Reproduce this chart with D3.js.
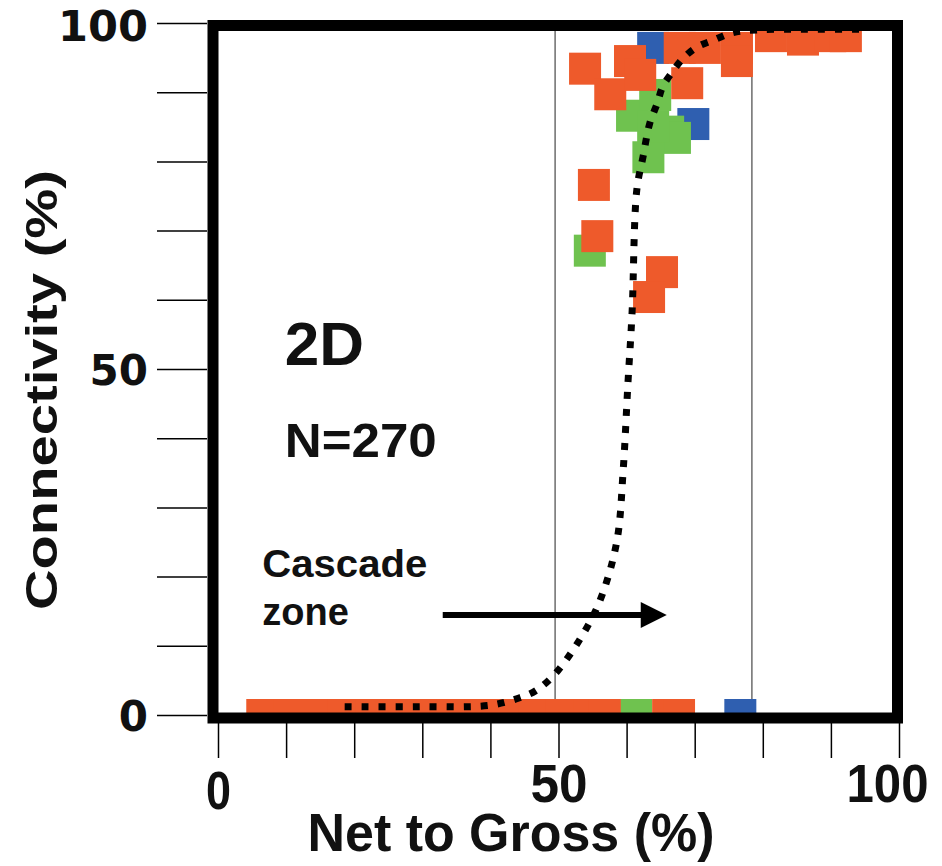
<!DOCTYPE html>
<html>
<head>
<meta charset="utf-8">
<script src="https://cdn.jsdelivr.net/npm/d3@7"></script>
<style>
  body { margin: 0; background: #fff; }
  text { font-family: "Liberation Sans", Arial, sans-serif; font-weight: bold; fill: #111; }
</style>
</head>
<body>
<div id="chart"></div>
<script>
const FRAME_WIDTH = 942;
const FRAME_HEIGHT = 866;

// data: [net to gross %, connectivity %]
const orange_pts = [
    [6.5, 0], [10.5, 0], [14.5, 0], [18.5, 0], [22.5, 0], [26.5, 0], [30.5, 0],
    [34.5, 0], [38.5, 0], [42.5, 0], [46.5, 0], [50.5, 0], [54.5, 0], [56.8, 0],
    [66.1, 0], [67.7, 0],
    [53.9, 93.4], [57.6, 89.7], [60.5, 94.5], [62.0, 92.5], [67.8, 96.4],
    [71.5, 96.4], [76.2, 96.4], [76.2, 94.5], [68.9, 91.3], [81.2, 98.1],
    [85.9, 97.6], [89.9, 98.1], [92.2, 98.1], [55.2, 76.6], [55.7, 69.2],
    [65.2, 64.0], [63.3, 60.4]
];
const green_pts = [
    [61.4, 0], [54.6, 67.1], [60.8, 86.6], [66.1, 84.3], [67.1, 83.4],
    [63.2, 80.6], [63.9, 85.0], [64.2, 89.6]
];
const blue_pts = [
    [76.7, 0], [63.9, 96.4], [69.8, 85.4]
];
// dotted trend curve
const curve_pts = [
    [18.6, 1.2], [29.7, 1.2], [39.9, 1.4], [44.3, 2.5], [46.8, 3.6], [49.9, 6.4],
    [54.2, 12.7], [56.5, 17.6], [58.6, 25.3], [59.5, 35.4], [60.2, 48.0],
    [60.8, 58.1], [61.5, 75.9], [62.4, 80.6], [63.4, 85.5], [64.5, 88.4],
    [65.3, 90.8], [66.7, 92.9], [68.3, 94.9], [70.3, 96.5], [72.7, 97.5],
    [75.6, 98.6], [79.1, 99.0], [84.0, 99.1], [88.8, 99.1], [94.3, 99.1]
];
const grid_x = [49.5, 78.4];
const x_ticks = [0, 10, 20, 30, 40, 50, 60, 70, 80, 90, 100];
const y_ticks = [0, 10, 20, 30, 40, 50, 60, 70, 80, 90, 100];
const labelled_ticks = [0, 50, 100];

const COLORS = {orange: "#ee5a2b", green: "#6fc24f", blue: "#2f5fb0"};
const SQ = 32;

const svg = d3.select("#chart")
    .append("svg")
    .attr("width", FRAME_WIDTH)
    .attr("height", FRAME_HEIGHT);

const x = d3.scaleLinear().domain([0, 100]).range([218, 899]);
const y = d3.scaleLinear().domain([0, 100]).range([715, 23]);

// clip so the squares stay inside the frame
svg.append("clipPath").attr("id", "plotclip")
  .append("rect")
    .attr("x", 219).attr("y", 31)
    .attr("width", 892 - 219).attr("height", 713 - 31);

const plot = svg.append("g").attr("clip-path", "url(#plotclip)");

// thin vertical guide lines
plot.selectAll(".grid")
    .data(grid_x)
    .enter()
    .append("line")
    .attr("x1", (d) => x(d)).attr("x2", (d) => x(d))
    .attr("y1", y(100)).attr("y2", y(0))
    .attr("stroke", "#555")
    .attr("stroke-width", 1.3);

function add_squares(pts, color) {
    plot.append("g")
        .selectAll("rect")
        .data(pts)
        .enter()
        .append("rect")
        .attr("x", (d) => x(d[0]) - SQ / 2)
        .attr("y", (d) => y(d[1]) - SQ / 2)
        .attr("width", SQ)
        .attr("height", SQ)
        .attr("fill", color);
}
add_squares(blue_pts, COLORS.blue);
add_squares(green_pts, COLORS.green);
add_squares(orange_pts, COLORS.orange);

// dotted curve
const line = d3.line()
    .x((d) => x(d[0]))
    .y((d) => y(d[1]))
    .curve(d3.curveCatmullRom);
plot.append("path")
    .datum(curve_pts)
    .attr("d", line)
    .attr("fill", "none")
    .attr("stroke", "#000")
    .attr("stroke-width", 7)
    .attr("stroke-dasharray", "7 10");

// frame
svg.append("rect")
    .attr("x", 213).attr("y", 25.5)
    .attr("width", 684.5).attr("height", 692.5)
    .attr("fill", "none")
    .attr("stroke", "#000")
    .attr("stroke-width", 11);

// y axis
const yAxis = svg.append("g")
    .attr("transform", "translate(207,0)")
    .call(d3.axisLeft(y)
        .tickValues(y_ticks)
        .tickSize(50)
        .tickPadding(9)
        .tickFormat((d) => labelled_ticks.includes(d) ? d : ""));
yAxis.select(".domain").remove();
yAxis.selectAll(".tick line").attr("stroke", "#000").attr("stroke-width", 1.5);
yAxis.selectAll(".tick text")
    .style("font-family", "'DejaVu Sans', sans-serif")
    .style("font-size", "42px")
    .style("font-weight", "bold")
    .attr("textLength", (d) => d == 100 ? 90 : null)
    .attr("lengthAdjust", "spacingAndGlyphs")
    .attr("dy", (d) => d == 100 ? "0.42em" : "0.36em");

// x axis
const xAxis = svg.append("g")
    .attr("transform", "translate(0,723)")
    .call(d3.axisBottom(x)
        .tickValues(x_ticks)
        .tickSize(35)
        .tickFormat((d) => labelled_ticks.includes(d) ? d : ""));
xAxis.select(".domain").remove();
xAxis.selectAll(".tick line").attr("stroke", "#000").attr("stroke-width", 1.5);
// the x labels are tall and narrow in the original
xAxis.selectAll(".tick text")
    .style("font-size", "54px")
    .attr("dy", 0)
    .attr("y", (d) => d == 0 ? 86 : 79)
    .attr("dx", (d) => d == 100 ? -12 : 0)
    .attr("textLength", (d) => d == 0 ? 25 : (d == 50 ? 57 : (d == 100 ? 82 : null)))
    .attr("lengthAdjust", "spacingAndGlyphs");

// axis titles
svg.append("text")
    .attr("x", 511).attr("y", 851)
    .attr("text-anchor", "middle")
    .style("font-size", "54px")
    .attr("textLength", 407)
    .attr("lengthAdjust", "spacingAndGlyphs")
    .text("Net to Gross (%)");

svg.append("text")
    .attr("transform", "translate(57,390) rotate(-90)")
    .attr("text-anchor", "middle")
    .style("font-size", "44px")
    .attr("textLength", 440)
    .attr("lengthAdjust", "spacingAndGlyphs")
    .text("Connectivity (%)");

// annotations
svg.append("text")
    .attr("x", x(9.8)).attr("y", 365)
    .style("font-size", "62px")
    .text("2D");
svg.append("text")
    .attr("x", x(9.8)).attr("y", 457)
    .style("font-size", "48px")
    .attr("textLength", 152)
    .attr("lengthAdjust", "spacingAndGlyphs")
    .text("N=270");
svg.append("text")
    .attr("x", x(6.5)).attr("y", 577)
    .style("font-size", "38px")
    .attr("textLength", 165)
    .attr("lengthAdjust", "spacingAndGlyphs")
    .text("Cascade");
svg.append("text")
    .attr("x", x(6.5)).attr("y", 625)
    .style("font-size", "38px")
    .text("zone");

// arrow
const ay = y(14.45);
svg.append("line")
    .attr("x1", x(33)).attr("x2", x(63))
    .attr("y1", ay).attr("y2", ay)
    .attr("stroke", "#000")
    .attr("stroke-width", 6);
svg.append("path")
    .attr("d", "M" + x(65.9) + "," + ay + " L" + (x(65.9) - 26) + "," + (ay - 13) +
               " L" + (x(65.9) - 26) + "," + (ay + 13) + " Z")
    .attr("fill", "#000");
</script>
</body>
</html>
